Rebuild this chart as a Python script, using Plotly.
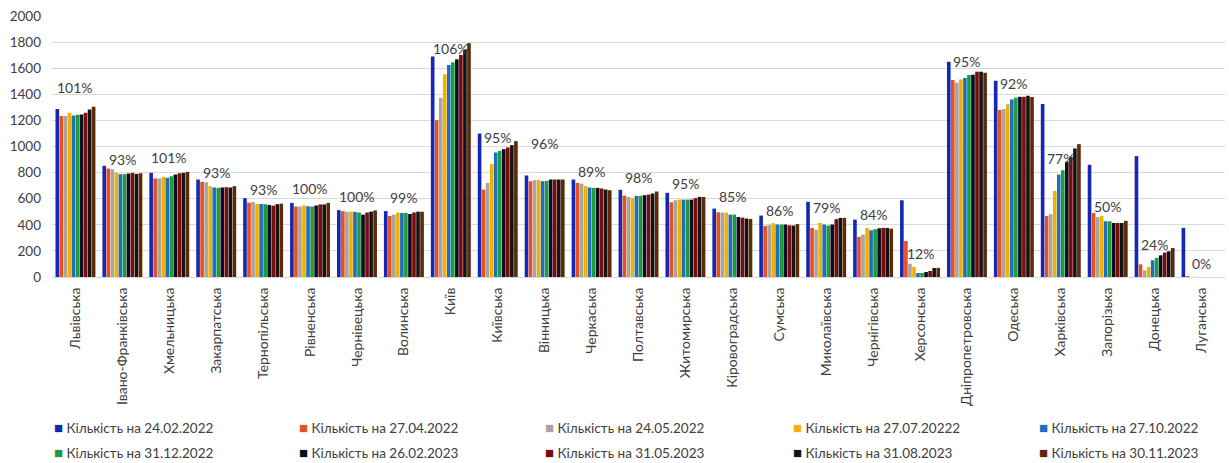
import plotly.graph_objects as go

regions = [
    "Львівська", "Івано-Франківська", "Хмельницька", "Закарпатська", "Тернопільська",
    "Рівненська", "Чернівецька", "Волинська", "Київ", "Київська", "Вінницька",
    "Черкаська", "Полтавська", "Житомирська", "Кіровоградська", "Сумська",
    "Миколаївська", "Чернігівська", "Херсонська", "Дніпропетровська", "Одеська",
    "Харківська", "Запорізька", "Донецька", "Луганська",
]

series_names = [
    "Кількість на 24.02.2022", "Кількість на 27.04.2022", "Кількість на 24.05.2022",
    "Кількість на 27.07.20222", "Кількість на 27.10.2022", "Кількість на 31.12.2022",
    "Кількість на 26.02.2023", "Кількість на 31.05.2023", "Кількість на 31.08.2023",
    "Кількість на 30.11.2023",
]

q_2022_02_24 = [1287, 852, 798, 747, 604, 568, 512, 505, 1690, 1100, 778, 747, 668, 645, 524, 471, 576, 440, 588, 1650, 1504, 1325, 860, 926, 376]
q_2022_04_27 = [1233, 831, 755, 729, 570, 540, 504, 468, 1202, 670, 734, 721, 624, 573, 496, 391, 376, 307, 276, 1509, 1279, 468, 491, 97, 5]
q_2022_05_24 = [1233, 826, 755, 726, 575, 540, 499, 478, 1374, 721, 742, 716, 614, 588, 494, 399, 363, 325, 102, 1489, 1287, 481, 460, 51, 0]
q_2022_07_27 = [1256, 800, 767, 696, 560, 548, 501, 494, 1553, 865, 742, 698, 606, 593, 494, 412, 414, 376, 77, 1514, 1323, 660, 468, 77, 0]
q_2022_10_27 = [1238, 788, 760, 686, 560, 542, 499, 491, 1624, 954, 734, 686, 622, 593, 478, 402, 402, 358, 31, 1525, 1361, 785, 427, 128, 0]
q_2022_12_31 = [1243, 788, 772, 683, 558, 540, 494, 491, 1645, 967, 737, 683, 622, 593, 478, 402, 394, 366, 31, 1548, 1374, 818, 427, 146, 0]
q_2023_02_26 = [1246, 793, 785, 686, 552, 548, 478, 483, 1668, 980, 747, 683, 627, 593, 460, 402, 402, 373, 38, 1550, 1381, 883, 414, 166, 0]
q_2023_05_31 = [1258, 798, 795, 688, 547, 556, 494, 494, 1701, 993, 747, 678, 632, 604, 455, 396, 443, 376, 46, 1573, 1381, 921, 414, 187, 0]
q_2023_08_31 = [1284, 790, 798, 686, 558, 556, 501, 501, 1740, 1010, 747, 670, 640, 614, 448, 394, 453, 376, 69, 1573, 1389, 985, 414, 197, 0]
q_2023_11_30 = [1305, 795, 806, 696, 562, 568, 510, 500, 1792, 1041, 747, 665, 655, 613, 445, 405, 453, 370, 70, 1565, 1379, 1018, 430, 222, 0]

series_values = [
    q_2022_02_24, q_2022_04_27, q_2022_05_24, q_2022_07_27, q_2022_10_27,
    q_2022_12_31, q_2023_02_26, q_2023_05_31, q_2023_08_31, q_2023_11_30,
]

colors = [
    "#1428b4", "#e8501e", "#a5a5a5", "#f4b000", "#1e6fc0",
    "#1f9a3c", "#0c0c24", "#7a0c0c", "#141414", "#5c2a08",
]

FONT = "Lato, 'Liberation Sans', sans-serif"
TEXT = "#404040"

fig = go.Figure()
for name, vals, col in zip(series_names, series_values, colors):
    fig.add_trace(go.Bar(x=regions, y=vals, name=name, marker_color=col,
                         marker_line_width=0, showlegend=False))

# Percentage of the latest count relative to 24.02.2022, placed above the last bar
nudge_px = {
    "Львівська": 5, "Вінницька": 22, "Київ": -19, "Київська": -10, "Черкаська": 5,
    "Кіровоградська": 8, "Миколаївська": -4, "Харківська": -28, "Донецька": -10,
    "Дніпропетровська": -3,
}
for i, reg in enumerate(regions):
    first, last = q_2022_02_24[i], q_2023_11_30[i]
    pct = round(last / first * 100)
    fig.add_annotation(x=reg, y=last, xref="x", yref="y", text=f"{pct}%",
                       showarrow=False, yanchor="middle",
                       yshift=14 + nudge_px.get(reg, 0),
                       font=dict(family=FONT, size=14, color=TEXT))

# Legend drawn as two rows of five entries under the category labels
L, R, T, B = 52, 1225, 16, 277
col_px = [52, 297, 543, 791, 1037]
row_px = [427, 452]
for k, (name, col) in enumerate(zip(series_names, colors)):
    px = col_px[k % 5]
    py = row_px[k // 5]
    fig.add_annotation(
        x=(px - L) / (R - L), y=(B - py) / (B - T), xref="paper", yref="paper",
        xanchor="left", yanchor="middle", showarrow=False,
        text=f"<span style='color:{col};font-size:15px'>■</span> {name}",
        font=dict(family=FONT, size=13.5, color=TEXT),
    )

fig.update_layout(
    width=1229, height=463,
    margin=dict(l=L, r=1229 - R, t=T, b=463 - B),
    plot_bgcolor="white", paper_bgcolor="white",
    barmode="group", bargap=0.14, bargroupgap=0.1,
    font=dict(family=FONT, size=12, color=TEXT),
    xaxis=dict(tickangle=-90, tickfont=dict(size=14, color=TEXT),
               showline=True, linecolor="#d9d9d9", ticks="", ticklabelstandoff=4),
    yaxis=dict(range=[0, 2000], dtick=200, gridcolor="#d9d9d9", gridwidth=1,
               zeroline=False, tickfont=dict(size=13.5, color=TEXT), ticks="",
               ticklabelstandoff=10),
)

fig.write_html("out.html")
